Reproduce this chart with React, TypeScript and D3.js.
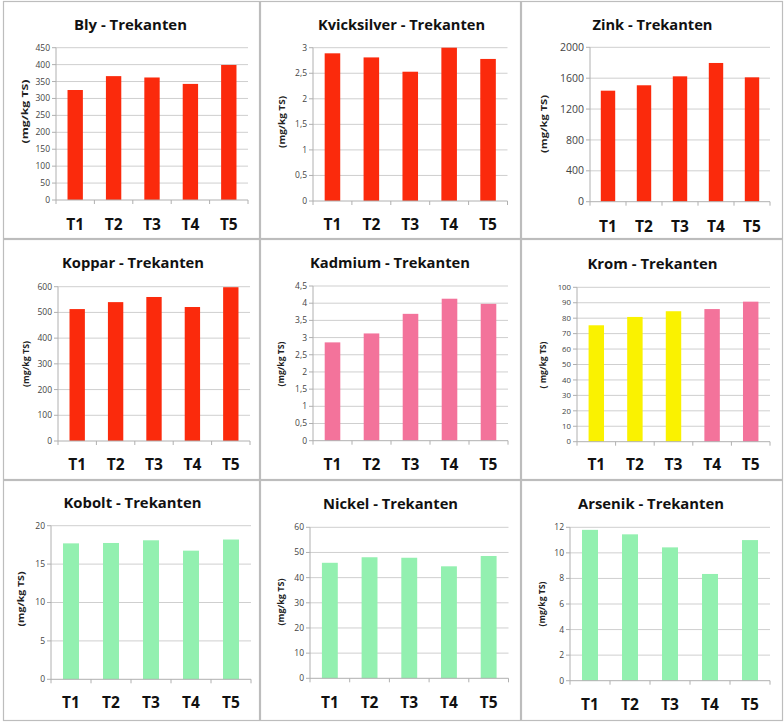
import React from "react";
import * as d3 from "d3";

const categories = ["T1", "T2", "T3", "T4", "T5"];

const blyValues = [325, 366, 362, 343, 399];
const kvicksilverValues = [2.89, 2.81, 2.53, 3.0, 2.78];
const zinkValues = [1438, 1508, 1624, 1797, 1611];
const kopparValues = [513, 540, 560, 521, 598];
const kadmiumValues = [2.86, 3.12, 3.69, 4.13, 3.98];
const kromValues = [75.4, 80.8, 84.5, 85.9, 90.7];
const koboltValues = [17.7, 17.75, 18.1, 16.75, 18.2];
const nickelValues = [45.9, 48.1, 47.9, 44.5, 48.6];
const arsenikValues = [11.8, 11.45, 10.43, 8.35, 11.0];

const titles = [
  "Bly - Trekanten",
  "Kvicksilver - Trekanten",
  "Zink - Trekanten",
  "Koppar - Trekanten",
  "Kadmium - Trekanten",
  "Krom - Trekanten",
  "Kobolt - Trekanten",
  "Nickel - Trekanten",
  "Arsenik - Trekanten",
];
const yAxisLabels = [
  "(mg/kg TS)",
  "(mg/kg TS)",
  "(mg/kg TS)",
  "(mg/kg TS)",
  "(mg/kg TS)",
  "( mg/kg TS)",
  "(mg/kg TS)",
  "(mg/kg TS)",
  "(mg/kg TS)",
];
const axisMax = [450, 3, 2000, 600, 4.5, 100, 20, 60, 12];
const axisStep = [50, 0.5, 400, 100, 0.5, 10, 5, 10, 2];

const RED = "#fb2a0c";
const PINK = "#f3739b";
const YELLOW = "#faf200";
const GREEN = "#93f0b0";

const barColors = [
  [RED, RED, RED, RED, RED],
  [RED, RED, RED, RED, RED],
  [RED, RED, RED, RED, RED],
  [RED, RED, RED, RED, RED],
  [PINK, PINK, PINK, PINK, PINK],
  [YELLOW, YELLOW, YELLOW, PINK, PINK],
  [GREEN, GREEN, GREEN, GREEN, GREEN],
  [GREEN, GREEN, GREEN, GREEN, GREEN],
  [GREEN, GREEN, GREEN, GREEN, GREEN],
];

const seriesValues = [
  blyValues,
  kvicksilverValues,
  zinkValues,
  kopparValues,
  kadmiumValues,
  kromValues,
  koboltValues,
  nickelValues,
  arsenikValues,
];

// layout per panel (pixels)
const layouts = [
  { L: 56, R: 248, T: 47.7, B: 200, tx: 130.5, ty: 29.5, tl: 113, yx: 25, yy: 111.5, yl: 64, fs: 8.5, xb: 230 },
  { L: 313, R: 507.5, T: 47.7, B: 201, tx: 401.5, ty: 29.5, tl: 167, yx: 282, yy: 122, yl: 52, fs: 8.5, xb: 230 },
  { L: 590, R: 770, T: 47.3, B: 201.7, tx: 652.5, ty: 29.5, tl: 120, yx: 544, yy: 124, yl: 58, fs: 10.5, xb: 231.5 },
  { L: 58, R: 250, T: 286.7, B: 441, tx: 133, ty: 267.8, tl: 142, yx: 26, yy: 364, yl: 46, fs: 8.5, xb: 470 },
  { L: 313, R: 508, T: 286, B: 440.7, tx: 390, ty: 267.8, tl: 160, yx: 281, yy: 364, yl: 45, fs: 8.5, xb: 470 },
  { L: 577, R: 770, T: 287.3, B: 441.7, tx: 652.5, ty: 268.5, tl: 130, yx: 543, yy: 365, yl: 47, fs: 7.8, xb: 470 },
  { L: 51, R: 251, T: 525.7, B: 679.3, tx: 132.5, ty: 508, tl: 138, yx: 21, yy: 599, yl: 55, fs: 8.5, xb: 708 },
  { L: 310, R: 508.5, T: 527.3, B: 678.3, tx: 390.5, ty: 508.5, tl: 135, yx: 281, yy: 602, yl: 47, fs: 8.5, xb: 708 },
  { L: 570, R: 770, T: 527.3, B: 680.7, tx: 651, ty: 508.5, tl: 146, yx: 542, yy: 604, yl: 45, fs: 8.5, xb: 709.5 },
];

const panelCols = [3, 260, 521, 783];
const panelRows = [1, 239, 480, 721];

const FONT = "'Open Sans', Lato, sans-serif";

const fmt = (v: number) => String(Math.round(v * 100) / 100).replace(".", ",");

function Panel({ i }: { i: number }) {
  const lay = layouts[i];
  const values = seriesValues[i];
  const x = d3
    .scaleBand<string>()
    .domain(categories)
    .range([lay.L, lay.R])
    .paddingInner(0.6)
    .paddingOuter(0.3);
  const y = d3.scaleLinear().domain([0, axisMax[i]]).range([lay.B, lay.T]);
  const ticks = d3.range(0, axisMax[i] + axisStep[i] / 2, axisStep[i]);
  const step = x.step();
  const boundaries = d3.range(0, categories.length + 1).map((k) => lay.L + k * step);
  return (
    <g>
      {ticks.map((t) => (
        <g key={t}>
          {t > 0 && (
            <line x1={lay.L} x2={lay.R} y1={y(t)} y2={y(t)} stroke="#cfcfcf" strokeWidth={1} />
          )}
          <line x1={lay.L - 4} x2={lay.L} y1={y(t)} y2={y(t)} stroke="#b0b0b0" strokeWidth={1} />
          <text
            x={lay.L - 6}
            y={y(t)}
            dy="0.35em"
            textAnchor="end"
            fontFamily={FONT}
            fontSize={lay.fs}
            fill="#444"
          >
            {fmt(t)}
          </text>
        </g>
      ))}
      <line x1={lay.L} x2={lay.L} y1={lay.T} y2={lay.B} stroke="#b0b0b0" strokeWidth={1} />
      {categories.map((c, k) => (
        <rect
          key={c}
          x={x(c)}
          y={y(values[k])}
          width={x.bandwidth()}
          height={lay.B - y(values[k])}
          fill={barColors[i][k]}
        />
      ))}
      <line x1={lay.L} x2={lay.R} y1={lay.B} y2={lay.B} stroke="#b0b0b0" strokeWidth={1} />
      {boundaries.map((bx, k) => (
        <line key={k} x1={bx} x2={bx} y1={lay.B} y2={lay.B + 4} stroke="#b0b0b0" strokeWidth={1} />
      ))}
      {categories.map((c) => (
        <text
          key={c}
          x={(x(c) as number) + x.bandwidth() / 2}
          y={lay.xb}
          textAnchor="middle"
          fontFamily={FONT}
          fontWeight="bold"
          fontSize={15.5}
          fill="#111"
        >
          {c}
        </text>
      ))}
      <text
        x={lay.tx}
        y={lay.ty}
        textAnchor="middle"
        fontFamily={FONT}
        fontWeight="bold"
        fontSize={14.5}
        fill="#111"
        textLength={lay.tl}
        lengthAdjust="spacingAndGlyphs"
      >
        {titles[i]}
      </text>
      <text
        transform={`translate(${lay.yx},${lay.yy}) rotate(-90)`}
        textAnchor="middle"
        dy="0.35em"
        fontFamily={FONT}
        fontWeight="bold"
        fontSize={8.5}
        fill="#222"
        textLength={lay.yl}
        lengthAdjust="spacingAndGlyphs"
      >
        {yAxisLabels[i]}
      </text>
    </g>
  );
}

export default function App() {
  return (
    <svg
      width={784}
      height={722}
      style={{ position: "absolute", left: 0, top: 0, background: "#fff" }}
    >
      <rect x={0} y={0} width={784} height={722} fill="#fff" />
      {panelRows.slice(0, 3).map((ry, r) =>
        panelCols.slice(0, 3).map((cx, c) => (
          <rect
            key={`${r}-${c}`}
            x={cx + 0.5}
            y={ry + 0.5}
            width={panelCols[c + 1] - cx - 1}
            height={panelRows[r + 1] - ry - 1}
            fill="#fff"
            stroke="#bdbdbd"
            strokeWidth={1.2}
          />
        ))
      )}
      {layouts.map((_, i) => (
        <Panel key={i} i={i} />
      ))}
    </svg>
  );
}
